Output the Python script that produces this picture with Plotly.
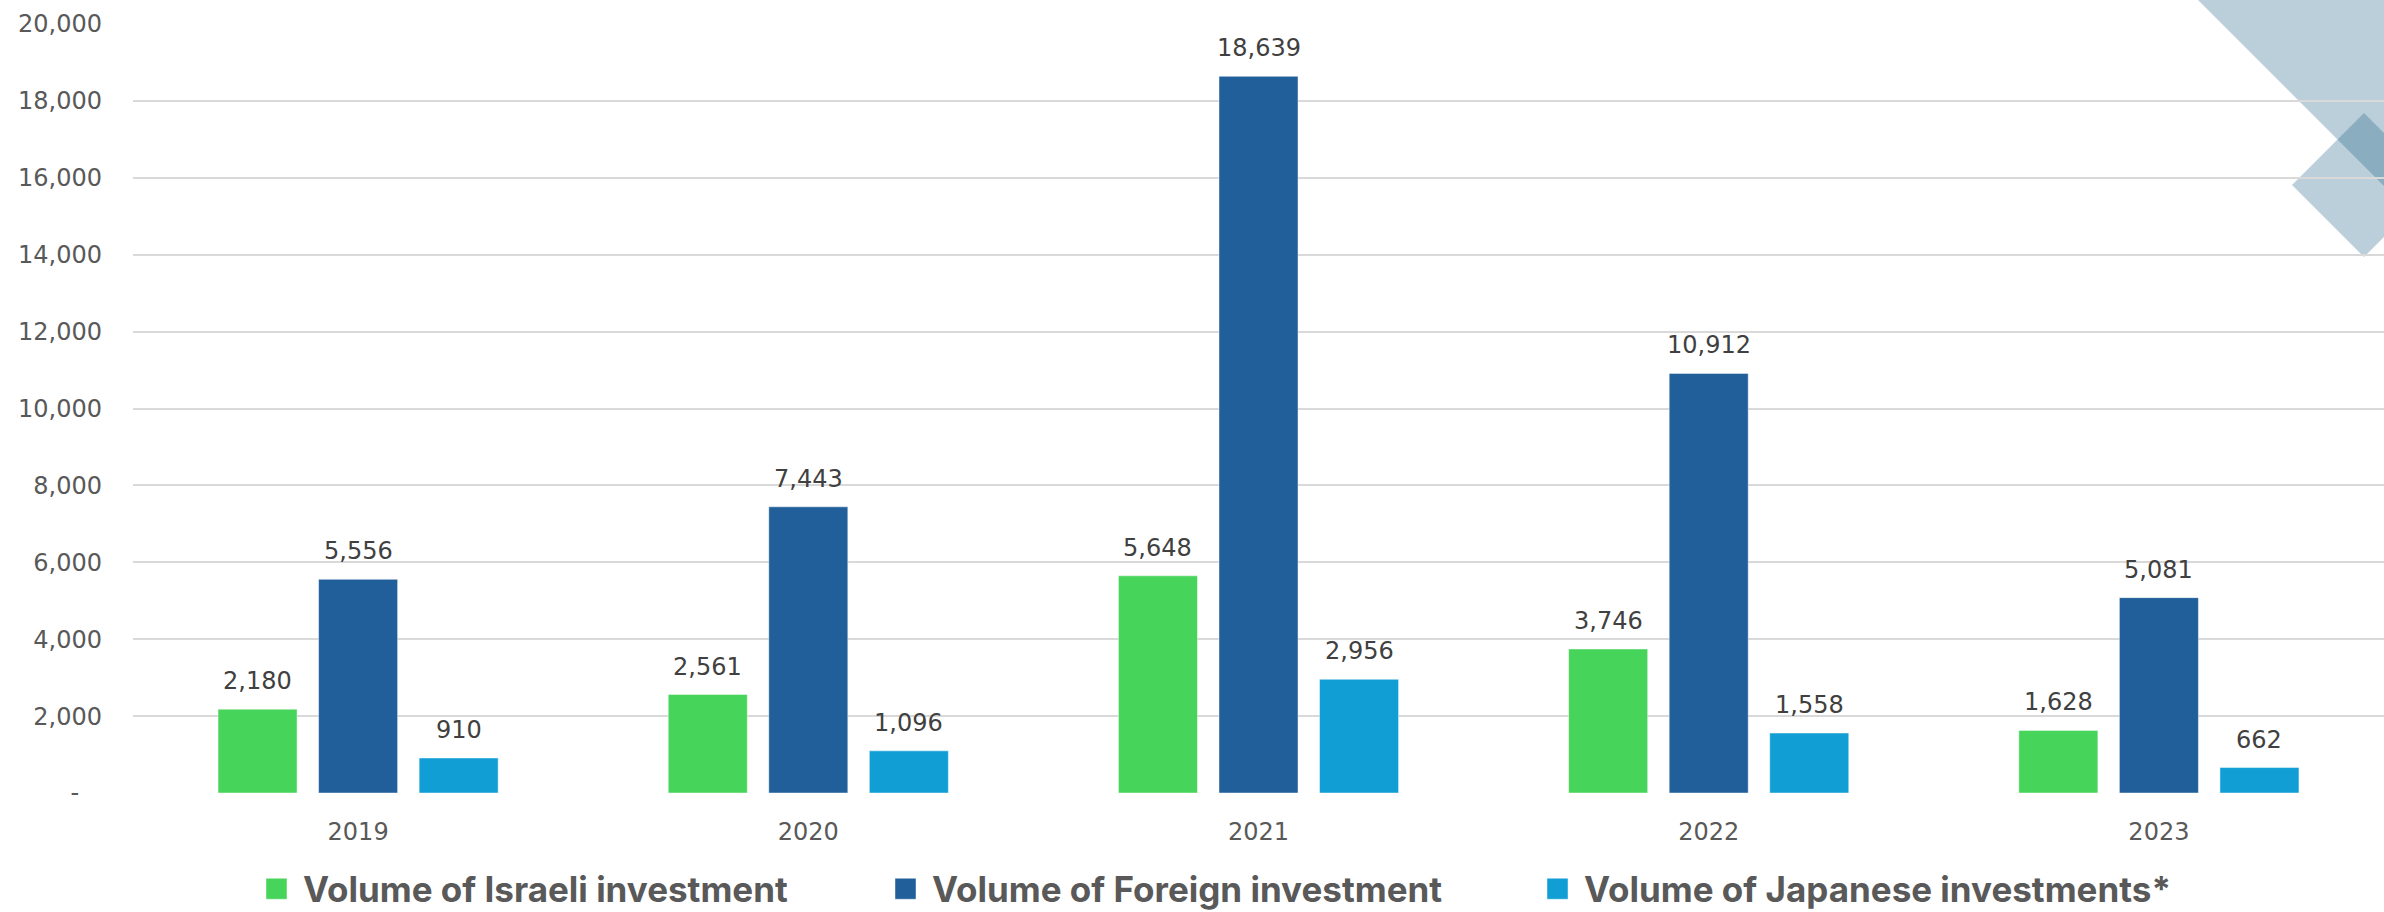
import plotly.graph_objects as go

# Investment volumes by year
years = ["2019", "2020", "2021", "2022", "2023"]
israeli = [2180, 2561, 5648, 3746, 1628]
foreign = [5556, 7443, 18639, 10912, 5081]
japanese = [910, 1096, 2956, 1558, 662]

series_names = [
    "Volume of Israeli investment",
    "Volume of Foreign investment",
    "Volume of Japanese investments*",
]
series_values = [israeli, foreign, japanese]
series_colors = ["#47D45A", "#215F9A", "#119ED5"]

y_ticks = list(range(0, 20001, 2000))
y_tick_text = ["-\u00a0\u00a0\u00a0"] + [f"{v:,}" for v in y_ticks[1:]]

W, H = 2384, 912
ML, MR, MT, MB = 133, 0, 24, 119
PW, PH = W - ML - MR, H - MT - MB

BARGAP = 0.33
BARGROUPGAP = 0.214

NUM_FONT = "DejaVu Sans, Liberation Sans, Arial, sans-serif"
LEGEND_FONT = "Inter, Liberation Sans, Arial, sans-serif"
AXIS_GREY = "#595959"
LABEL_GREY = "#404040"


def px_to_paper(px, py):
    return (px - ML) / PW, (H - MB - py) / PH


legend_keys = ["legend", "legend2", "legend3"]
legend_left_px = [263, 892, 1544]

fig = go.Figure()
for name, vals, color, lk in zip(series_names, series_values, series_colors, legend_keys):
    fig.add_trace(go.Bar(
        x=years, y=vals, name=name,
        marker=dict(color=color, line=dict(color="rgba(255,255,255,0.45)", width=1)),
        legend=lk,
        hoverinfo="x+y+name",
    ))

# Value labels above each bar
slot = (1 - BARGAP) / len(series_values)
for s, vals in enumerate(series_values):
    offset = (s - (len(series_values) - 1) / 2) * slot
    for i, v in enumerate(vals):
        fig.add_annotation(
            x=i + offset, y=v, xref="x", yref="y",
            text=f"{v:,}", showarrow=False,
            yanchor="bottom", yshift=12,
            font=dict(family=NUM_FONT, size=24, color=LABEL_GREY),
        )

# Decorative corner shapes
def path_from(points):
    pts = [px_to_paper(x, y) for x, y in points]
    return "M" + " L".join(f"{x:.5f},{y:.5f}" for x, y in pts) + " Z"

corner_fill = "rgb(28,97,133)"
fig.add_shape(type="path", xref="paper", yref="paper", layer="below",
              path=path_from([(2196, -2), (2440, -2), (2440, 242)]),
              fillcolor=corner_fill, opacity=0.3, line=dict(width=0))
fig.add_shape(type="path", xref="paper", yref="paper", layer="below",
              path=path_from([(2364, 113), (2436, 185), (2364, 257), (2292, 185)]),
              fillcolor=corner_fill, opacity=0.3, line=dict(width=0))

legend_common = dict(
    orientation="h", xref="container", yref="container",
    xanchor="left", yanchor="middle",
    font=dict(family=LEGEND_FONT, size=35, color=AXIS_GREY, weight="bold"),
    bgcolor="rgba(0,0,0,0)", borderwidth=0,
)
layout_legends = {}
for lk, lpx in zip(legend_keys, legend_left_px):
    layout_legends[lk] = dict(legend_common, x=lpx / W, y=1 - 889 / H)

fig.update_layout(
    width=W, height=H,
    margin=dict(l=ML, r=MR, t=MT, b=MB, pad=0, autoexpand=False),
    paper_bgcolor="white", plot_bgcolor="white",
    barmode="group", bargap=BARGAP, bargroupgap=BARGROUPGAP,
    showlegend=True,
    font=dict(family=NUM_FONT, color=AXIS_GREY),
    **layout_legends,
)
fig.update_xaxes(
    type="category", showgrid=False, zeroline=False, showline=False,
    ticks="", ticklabelstandoff=22,
    tickfont=dict(family=NUM_FONT, size=24, color=AXIS_GREY),
)
fig.update_yaxes(
    range=[0, 20000], tickvals=y_ticks, ticktext=y_tick_text,
    showgrid=True, gridcolor="#D9D9D9", gridwidth=2,
    zeroline=False, showline=False, ticks="", ticklabelstandoff=30,
    tickfont=dict(family=NUM_FONT, size=24, color=AXIS_GREY),
)

# Larger square swatches in the legends
legend_swatch_js = """
var gd = document.getElementById('{plot_id}');
function enlargeSwatches() {
  gd.querySelectorAll('.legendpoints path').forEach(function (p) {
    p.setAttribute('d', 'M4,10.5H-17V-10.5H4Z');
  });
}
enlargeSwatches();
gd.on('plotly_afterplot', enlargeSwatches);
"""

fig.write_html("out.html", post_script=legend_swatch_js)
